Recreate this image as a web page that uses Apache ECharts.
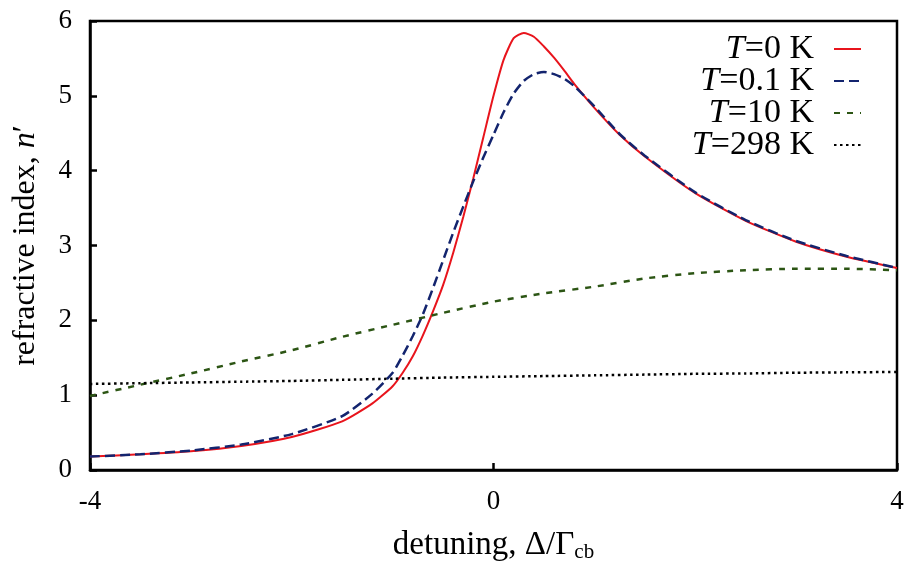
<!DOCTYPE html>
<html>
<head>
<meta charset="utf-8">
<script src="https://cdn.jsdelivr.net/npm/echarts@6/dist/echarts.min.js"></script>
<style>
  html, body { margin: 0; padding: 0; background: #fff; }
  #chart { width: 910px; height: 570px; }
</style>
</head>
<body>
<div id="chart"></div>
<script>
// Detuning grid (Δ/Γcb) for the two low-temperature curves, denser near resonance
const detuningFine = [-4, -3.5, -3, -2.5, -2, -1.5, -1.2, -1, -0.9, -0.8, -0.7, -0.6, -0.5, -0.4, -0.3, -0.2, -0.1,
  0, 0.1, 0.2, 0.3, 0.4, 0.5, 0.6, 0.7, 0.8, 1.0, 1.25, 1.5, 2, 2.5, 3, 3.5, 4];
// Refractive index n' at T = 0 K
const indexT0 = [0.18, 0.21, 0.25, 0.32, 0.44, 0.65, 0.89, 1.12, 1.30, 1.52, 1.80, 2.12, 2.47, 2.90, 3.38, 3.90, 4.45,
  5.00, 5.48, 5.77, 5.84, 5.79, 5.66, 5.51, 5.34, 5.16, 4.84, 4.48, 4.19, 3.70, 3.33, 3.05, 2.85, 2.70];
// Refractive index n' at T = 0.1 K
const indexT01 = [0.18, 0.21, 0.26, 0.34, 0.48, 0.72, 1.02, 1.30, 1.53, 1.79, 2.08, 2.43, 2.80, 3.17, 3.52, 3.86, 4.18,
  4.48, 4.78, 5.03, 5.20, 5.29, 5.32, 5.29, 5.23, 5.13, 4.86, 4.49, 4.20, 3.71, 3.34, 3.06, 2.86, 2.70];

// Coarser detuning grid for the broad high-temperature curves
const detuningCoarse = [-4, -3.5, -3, -2.5, -2, -1.5, -1, -0.5, 0, 0.5, 1, 1.5, 2, 2.5, 3, 3.5, 4];
// Refractive index n' at T = 10 K
const indexT10 = [0.99, 1.14, 1.29, 1.45, 1.60, 1.78, 1.94, 2.10, 2.25, 2.36, 2.45, 2.56, 2.63, 2.67, 2.69, 2.69, 2.67];
// Refractive index n' at T = 298 K
const indexT298 = [1.15, 1.16, 1.17, 1.18, 1.19, 1.205, 1.22, 1.235, 1.245, 1.255, 1.265, 1.275, 1.285, 1.29, 1.30, 1.305, 1.31];

const seriesNames = ['T=0 K', 'T=0.1 K', 'T=10 K', 'T=298 K'];
const legendLabels = ['{i|T}=0 K', '{i|T}=0.1 K', '{i|T}=10 K', '{i|T}=298 K'];

const xTicks = { min: -4, max: 4, interval: 4 };
const yTicks = { min: 0, max: 6, interval: 1 };

const pairs = (xs, ys) => xs.map((x, i) => [x, ys[i]]);

const FONT = '"Liberation Serif", "DejaVu Serif", serif';

const chart = echarts.init(document.getElementById('chart'), null, { renderer: 'canvas' });

const curve = (name, xs, ys, color, type, width) => ({
  name,
  type: 'line',
  data: pairs(xs, ys),
  showSymbol: false,
  symbol: 'none',
  smooth: 0.2,
  animation: false,
  lineStyle: { color, width, type },
  itemStyle: { color },
  z: 3
});

chart.setOption({
  backgroundColor: '#ffffff',
  animation: false,
  grid: {
    left: 90, right: 13, top: 21, bottom: 100,
    outerBoundsMode: 'none',
    containLabel: false,
    show: true, borderColor: '#000', borderWidth: 2.5, backgroundColor: 'transparent'
  },
  legend: {
    orient: 'vertical',
    align: 'right',
    right: 48,
    top: 32,
    padding: 0,
    itemGap: -2,
    itemWidth: 27,
    itemHeight: 31,
    data: seriesNames,
    formatter: name => legendLabels[seriesNames.indexOf(name)],
    itemStyle: { opacity: 0 },
    textStyle: {
      fontFamily: FONT,
      fontSize: 34,
      color: '#000',
      lineHeight: 31,
      padding: [0, 15, 0, 0],
      rich: {
        i: { fontFamily: FONT, fontStyle: 'italic', fontSize: 34, color: '#000', lineHeight: 31 }
      }
    },
    selectedMode: false
  },
  xAxis: {
    type: 'value',
    min: xTicks.min, max: xTicks.max, interval: xTicks.interval,
    name: 'detuning, Δ/Γ{sub|cb}',
    nameLocation: 'middle',
    nameGap: 58,
    nameTextStyle: {
      fontFamily: FONT, fontSize: 33, color: '#000',
      rich: { sub: { fontFamily: FONT, fontSize: 21, color: '#000', padding: [14, 0, 0, 0] } }
    },
    axisLine: { show: true, onZero: false, lineStyle: { color: '#000', width: 2.5 } },
    axisTick: { show: true, inside: true, length: 7, lineStyle: { color: '#000', width: 2.5 } },
    splitLine: { show: false },
    axisLabel: { fontFamily: FONT, fontSize: 27, color: '#000', margin: 18 }
  },
  yAxis: {
    type: 'value',
    min: yTicks.min, max: yTicks.max, interval: yTicks.interval,
    name: 'refractive index, {i|n}′',
    nameLocation: 'middle',
    nameGap: 48,
    nameRotate: 90,
    nameTextStyle: {
      fontFamily: FONT, fontSize: 32, color: '#000',
      rich: { i: { fontFamily: FONT, fontStyle: 'italic', fontSize: 32, color: '#000' } }
    },
    axisLine: { show: true, onZero: false, lineStyle: { color: '#000', width: 2.5 } },
    axisTick: { show: true, inside: true, length: 7, lineStyle: { color: '#000', width: 2.5 } },
    splitLine: { show: false },
    axisLabel: { fontFamily: FONT, fontSize: 27, color: '#000', margin: 18 }
  },
  series: [
    curve(seriesNames[0], detuningFine, indexT0, '#e8141c', 'solid', 2),
    curve(seriesNames[1], detuningFine, indexT01, '#13246e', [10, 5], 2.5),
    curve(seriesNames[2], detuningCoarse, indexT10, '#2c5514', [6, 7], 2.5),
    curve(seriesNames[3], detuningCoarse, indexT298, '#000000', [2.5, 3.5], 2.5)
  ]
});
</script>
</body>
</html>
